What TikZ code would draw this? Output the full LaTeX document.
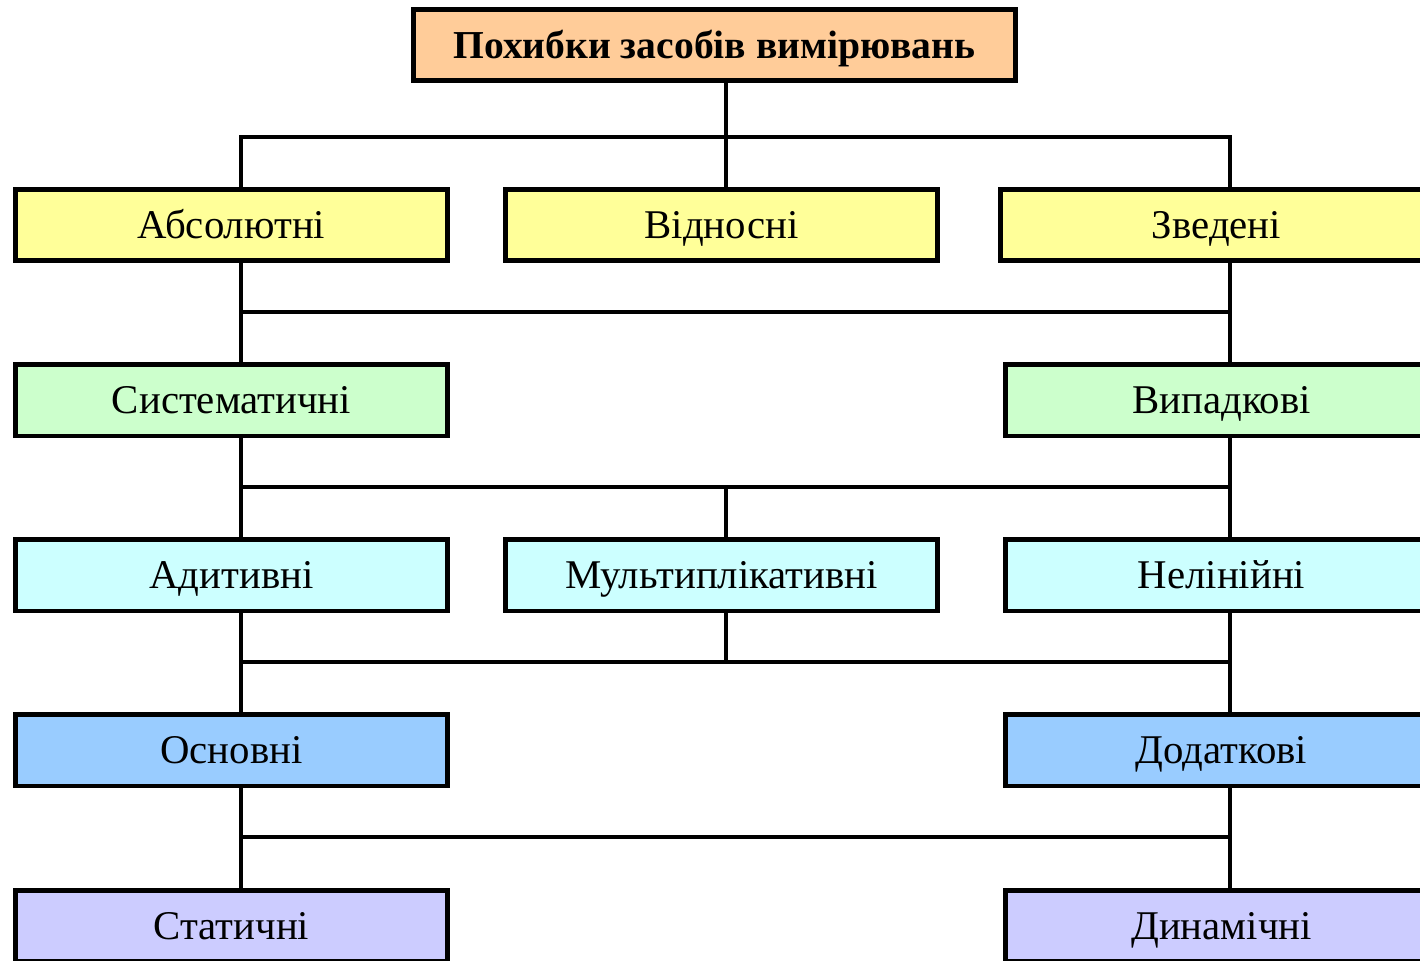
\documentclass[tikz,border=0pt]{standalone}
\usepackage{fontspec}
\setmainfont{Liberation Serif}
\definecolor{peach}{HTML}{FFCC99}
\definecolor{giallo}{HTML}{FFFF99}
\definecolor{verde}{HTML}{CCFFCC}
\definecolor{ciano}{HTML}{CCFFFF}
\definecolor{blu}{HTML}{99CCFF}
\definecolor{lilla}{HTML}{CCCCFF}
\tikzset{
  box/.style={draw=black,line width=2.3pt,minimum width=216pt,minimum height=35.7pt,inner sep=0pt,
    text height=13.5pt,text depth=0pt,font=\fontsize{20.4}{24}\selectfont},
  conn/.style={-,line width=2.2pt}
}
\begin{document}
\begin{tikzpicture}[x=0.5pt,y=-0.5pt]
        \clip (0,0) rectangle (1420,961);
        \fill[white] (0,0) rectangle (1420,961);
        % colonne e bus
        \coordinate (vl) at (241,0);\coordinate (vm) at (726,0);\coordinate (vr) at (1230,0);
        \coordinate (bus0) at (0,137);\coordinate (bus1) at (0,312);\coordinate (bus2) at (0,487);
        \coordinate (bus3) at (0,662);\coordinate (bus4) at (0,837);
        % titolo
        \node[box,fill=peach,minimum width=301pt,font=\fontsize{19.8}{24}\selectfont\bfseries] (title) at (714.5,45) {Похибки засобів вимірювань};
        % riga 1
        \node[box,fill=giallo] (abs) at (231.5,225) {Абсолютні};
        \node[box,fill=giallo] (vid) at (721.5,225) {Відносні};
        \node[box,fill=giallo] (zved) at (1216.5,225) {Зведені};
        % riga 2
        \node[box,fill=verde] (sys) at (231.5,400.5) {Систематичні};
        \node[box,fill=verde] (vyp) at (1221.5,400.5) {Випадкові};
        % riga 3
        \node[box,fill=ciano] (adyt) at (231.5,575.5) {Адитивні};
        \node[box,fill=ciano] (mult) at (721.5,575.5) {Мультиплікативні};
        \node[box,fill=ciano] (nelin) at (1221.5,575.5) {Нелінійні};
        % riga 4
        \node[box,fill=blu] (osn) at (231.5,750.5) {Основні};
        \node[box,fill=blu] (dod) at (1221.5,750.5) {Додаткові};
        % riga 5
        \node[box,fill=lilla] (stat) at (231.5,926) {Статичні};
        \node[box,fill=lilla] (dyn) at (1221.5,926) {Динамічні};
        % linee
        \draw[conn] (title.south -| vm) -- (vm |- bus0);
        \draw[conn] (abs.north -| vl) -- (vl |- bus0) -- (vr |- bus0) -- (zved.north -| vr);
        \draw[conn] (vid.north -| vm) -- (vm |- bus0);
        \draw[conn] (abs.south -| vl) -- (sys.north -| vl);
        \draw[conn] (zved.south -| vr) -- (vyp.north -| vr);
        \draw[conn] (vl |- bus1) -- (vr |- bus1);
        \draw[conn] (sys.south -| vl) -- (adyt.north -| vl);
        \draw[conn] (vyp.south -| vr) -- (nelin.north -| vr);
        \draw[conn] (vl |- bus2) -- (vr |- bus2);\draw[conn] (vm |- bus2) -- (mult.north -| vm);
        \draw[conn] (adyt.south -| vl) -- (osn.north -| vl);
        \draw[conn] (nelin.south -| vr) -- (dod.north -| vr);
        \draw[conn] (vl |- bus3) -- (vr |- bus3);\draw[conn] (mult.south -| vm) -- (vm |- bus3);
        \draw[conn] (osn.south -| vl) -- (stat.north -| vl);
        \draw[conn] (dod.south -| vr) -- (dyn.north -| vr);
        \draw[conn] (vl |- bus4) -- (vr |- bus4);
\end{tikzpicture}
\end{document}
